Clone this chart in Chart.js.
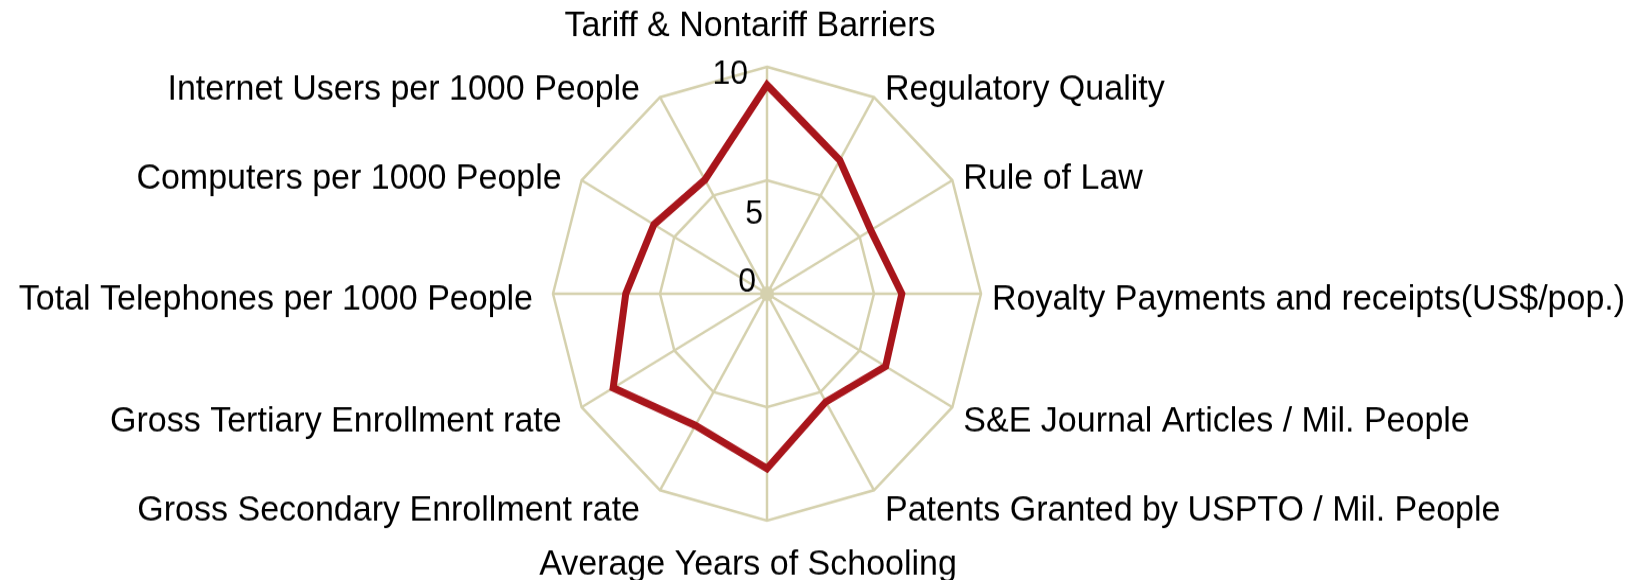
<!DOCTYPE html>
<html>
<head>
<meta charset="utf-8">
<script src="https://cdn.jsdelivr.net/npm/chart.js@4.4.1/dist/chart.umd.min.js"></script>
<style>
  html, body { margin: 0; padding: 0; background: #fff; overflow: hidden; }
  #grafico { display: block; }
</style>
</head>
<body>
<!-- la imagen original está un poco estirada en vertical: 547 px de lienzo mostrados en 580 -->
<canvas id="grafico" width="1652" height="547" style="width:1652px;height:580px"></canvas>
<script>
// Ejes del radar, en sentido horario desde arriba
const indicadores = [
    'Tariff & Nontariff Barriers',
    'Regulatory Quality',
    'Rule of Law',
    'Royalty Payments and receipts(US$/pop.)',
    'S&E Journal Articles / Mil. People',
    'Patents Granted by USPTO / Mil. People',
    'Average Years of Schooling',
    'Gross Secondary Enrollment rate',
    'Gross Tertiary Enrollment rate',
    'Total Telephones per 1000 People',
    'Computers per 1000 People',
    'Internet Users per 1000 People'
];

// Puntaje normalizado (0-10) por indicador
const puntajes = [9.2, 6.8, 5.6, 6.3, 6.4, 5.5, 7.7, 6.7, 8.3, 6.6, 6.1, 5.8];

// Marcas de la escala radial
const marcasEscala = [0, 5, 10];

const colorRejilla = '#d5d1ae';
const colorSerie = '#a8151b';
const fuente = '"Liberation Sans", Arial, sans-serif';

// Ajuste fino de las marcas (dx, dy) como en el original
const ajusteMarcas = { 0: [-11, -2], 5: [-4, 41], 10: [-19, 16] };

// Plugin: punto central y textos dibujados a mano (alineados como el original)
const etiquetasRadar = {
    id: 'etiquetasRadar',
    beforeDatasetsDraw(chart) {
        const r = chart.scales.r;
        const ctx = chart.ctx;
        ctx.save();
        ctx.fillStyle = colorRejilla;
        ctx.beginPath();
        ctx.arc(r.xCenter, r.yCenter, 7, 0, Math.PI * 2);
        ctx.fill();
        ctx.restore();
    },
    afterDraw(chart) {
        const r = chart.scales.r;
        const ctx = chart.ctx;
        ctx.save();
        ctx.fillStyle = '#000';
        ctx.font = '34px ' + fuente;
        indicadores.forEach((txt, i) => {
            const p = r.getPointPosition(i, r.drawingArea);
            const ang = i * 360 / indicadores.length;
            if (ang === 0) {
                ctx.textAlign = 'center';
                ctx.textBaseline = 'alphabetic';
                ctx.fillText(txt, p.x - 17, p.y - 29);
            } else if (ang === 180) {
                ctx.textAlign = 'center';
                ctx.textBaseline = 'alphabetic';
                ctx.fillText(txt, p.x - 19, p.y + 51);
            } else {
                const derecha = ang < 180;
                ctx.textAlign = derecha ? 'left' : 'right';
                ctx.textBaseline = 'middle';
                const y = p.y - 15 * Math.cos(ang * Math.PI / 180) + 6;
                ctx.fillText(txt, derecha ? p.x + 11 : p.x - 20, y);
            }
        });

        ctx.font = '32px ' + fuente;
        ctx.textAlign = 'right';
        ctx.textBaseline = 'alphabetic';
        marcasEscala.forEach(v => {
            const p = r.getPointPositionForValue(0, v);
            const aj = ajusteMarcas[v] || [-8, 0];
            ctx.fillText(String(v), p.x + aj[0], p.y + aj[1]);
        });
        ctx.restore();
    }
};

let chart;
window.onload = function() {
    const ctx = document.getElementById('grafico').getContext('2d');
    chart = new Chart(ctx, {
        type: 'radar',
        data: {
            labels: indicadores,
            datasets: [{
                data: puntajes,
                borderColor: colorSerie,
                borderWidth: 7,
                borderJoinStyle: 'miter',
                fill: false,
                pointRadius: 0
            }]
        },
        options: {
            responsive: false,
            animation: false,
            layout: { padding: { top: 63, bottom: 56, left: 0, right: 118 } },
            plugins: { legend: { display: false }, tooltip: { enabled: false } },
            scales: {
                r: {
                    min: 0,
                    max: 10,
                    ticks: { display: false, stepSize: 5 },
                    pointLabels: { display: false },
                    grid: { color: colorRejilla, lineWidth: 2.5 },
                    angleLines: { color: colorRejilla, lineWidth: 2.5 }
                }
            }
        },
        plugins: [etiquetasRadar]
    });
};
</script>
</body>
</html>
